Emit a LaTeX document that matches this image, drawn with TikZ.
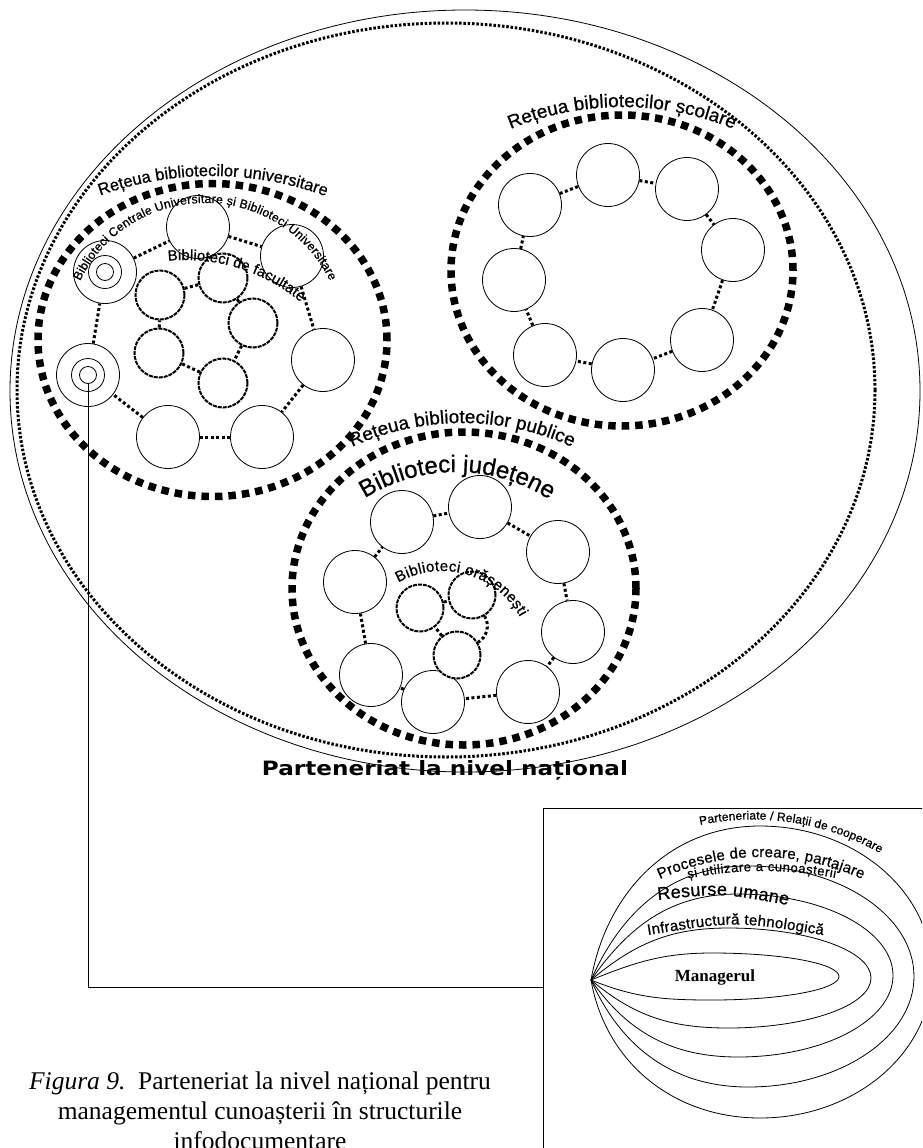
\documentclass[tikz,border=0pt]{standalone}
\usepackage{fontspec}
\usepackage{graphicx}
\setmainfont{Liberation Serif}
\setsansfont{Liberation Sans}
\newfontfamily\djf{DejaVu Sans}
\newfontfamily\lblf{Liberation Sans}[FakeBold=0.8]
\usetikzlibrary{decorations.text}
\newcommand\myarc[7]{%
  \path[decorate,decoration={text along path,
    text={|\lblf\fontsize{#1}{#1}\selectfont|#7},
    text align={fit to path}}]
    ([shift={(#5:#4)}]#2,#3) arc[start angle=#5,end angle=#6,radius=#4];}
\begin{document}
\begin{tikzpicture}[x=1pt,y=1pt,
  thinl/.style={line width=0.8pt},
  lib/.style={circle,draw,line width=0.8pt,fill=white,minimum size=63pt,inner sep=0pt},
  ringin/.style={circle,draw,line width=0.8pt,inner sep=0pt},
  fac/.style={circle,draw,fill=white,line width=2pt,dash pattern=on 4pt off 1pt,minimum size=49pt,inner sep=0pt},
  oras/.style={fac,minimum size=47pt},
  ringc/.style={line width=3pt,dash pattern=on 3pt off 2.5pt},
  bigring/.style={line width=7.5pt,dash pattern=on 7.5pt off 6pt},
  outerdots/.style={line width=3pt,dash pattern=on 2.5pt off 1.8pt}]
\useasboundingbox (0,0) rectangle (922,-1148);
\clip (0,0) rectangle (922,-1148);

% outer national partnership
\draw[thinl] (465,-391) ellipse[x radius=455,y radius=381];
\draw[outerdots] (446,-390) ellipse[x radius=429,y radius=367];

% three networks
\draw[bigring] (212.5,-340) ellipse[x radius=174.5,y radius=156.5];
\draw[bigring] (622,-270.5) ellipse[x radius=171,y radius=155.5];
\draw[bigring] (464,-588.5) ellipse[x radius=172,y radius=156.5];

% universitare
\node[lib] (U1) at (105,-272) {};
\node[ringin,minimum size=33pt] (U1b) at (U1) {};
\node[ringin,minimum size=17pt] (U1c) at (U1) {};
\node[lib] (U2) at (198,-227) {};
\node[lib] (U3) at (292,-256) {};
\node[lib] (U4) at (323,-360) {};
\node[lib] (U5) at (262,-437) {};
\node[lib] (U6) at (168,-437) {};
\node[lib] (U7) at (88,-375) {};
\node[ringin,minimum size=33pt] (U7b) at (U7) {};
\node[ringin,minimum size=17pt] (U7c) at (U7) {};
\foreach \a/\b in {U1/U2,U2/U3,U3/U4,U4/U5,U5/U6,U6/U7,U7/U1}
  \draw[ringc] (\a) -- (\b);

\node[fac] (F1) at (160,-295) {};
\node[fac] (F2) at (223,-278) {};
\node[fac] (F3) at (253,-323) {};
\node[fac] (F4) at (223,-383) {};
\node[fac] (F5) at (159,-353) {};
\foreach \a/\b in {F1/F2,F2/F3,F3/F4,F4/F5,F5/F1}
  \draw[ringc] (\a) -- (\b);

% scolare
\node[lib] (S1) at (608,-175) {};
\node[lib] (S2) at (687,-189) {};
\node[lib] (S3) at (733,-250) {};
\node[lib] (S4) at (702,-340) {};
\node[lib] (S5) at (623,-370) {};
\node[lib] (S6) at (545,-355) {};
\node[lib] (S7) at (514,-280) {};
\node[lib] (S8) at (530,-205) {};
\foreach \a/\b in {S1/S2,S2/S3,S3/S4,S4/S5,S5/S6,S6/S7,S7/S8,S8/S1}
  \draw[ringc] (\a) -- (\b);

% publice
\node[lib] (P1) at (402,-522) {};
\node[lib] (P2) at (480,-507) {};
\node[lib] (P3) at (558,-552) {};
\node[lib] (P4) at (355,-582) {};
\node[lib] (P5) at (573,-632) {};
\node[lib] (P6) at (528,-692) {};
\node[lib] (P7) at (433,-702) {};
\node[lib] (P8) at (371,-675) {};
\foreach \a/\b in {P1/P2,P2/P3,P3/P5,P5/P6,P6/P7,P7/P8,P8/P4,P4/P1}
  \draw[ringc] (\a) -- (\b);

\node[oras] (O1) at (420,-608) {};
\node[oras] (O2) at (472,-595) {};
\node[oras] (O3) at (457,-655) {};
\draw[ringc] (O1) -- (O2);
\draw[ringc] (O2) to[bend left=45] (O3);
\draw[ringc] (O3) -- (O1);

% labels on arcs
\myarc{16.5}{212}{-506}{330}{109.8}{70.2}{Rețeua bibliotecilor universitare}
\myarc{12.3}{205}{-342}{139}{154}{26}{Biblioteci Centrale Universitare și Biblioteci Universitare}
\myarc{14.8}{185}{-440}{180}{95.4}{50}{Biblioteci de facultate}
\myarc{18.8}{622}{-400.5}{293.5}{112.3}{67.7}{Rețeua bibliotecilor școlare}
\myarc{18.8}{462}{-687}{264}{114.6}{65.4}{Rețeua bibliotecilor publice}
\myarc{24}{456}{-644}{172}{122}{58}{Biblioteci județene}
\myarc{15}{442}{-660}{89}{119.4}{28.9}{Biblioteci orășenești}

\node[anchor=base] (pln) at (445,-775) {\resizebox{366pt}{15pt}{\djf\bfseries Parteneriat la nivel național}};

% box with the layered model
\coordinate (boxL) at (543,-987);
\draw[thinl] (543,-1160) -- (543,-808) -- (940,-808);
\draw[thinl] (U7c.south) |- (boxL);

\coordinate (L) at (591,-980);
\draw[thinl] (L) to[out=22,in=180] (712,-953) arc[start angle=90,end angle=-90,x radius=127,y radius=23.5] to[out=180,in=-22] (L);
\draw[thinl] (L) to[out=40,in=180] (728,-928) arc[start angle=90,end angle=-90,x radius=143,y radius=50] to[out=180,in=-40] (L);
\draw[thinl] (L) to[out=55,in=180] (738,-894) arc[start angle=90,end angle=-90,x radius=155,y radius=81.5] to[out=180,in=-55] (L);
\draw[thinl] (L) to[out=66,in=180] (748,-866) arc[start angle=90,end angle=-90,x radius=166,y radius=110.5] to[out=180,in=-66] (L);
\draw[thinl] (L) to[out=80,in=180] (760,-826) arc[start angle=90,end angle=-90,x radius=172,y radius=146] to[out=180,in=-80] (L);

\myarc{12}{753}{-1076}{256.5}{101.9}{60.3}{Parteneriate / Relații de cooperare}
\myarc{15}{761}{-1100}{243}{114.6}{65.4}{Procesele de creare, partajare}
\myarc{13}{763}{-1250}{379}{101.4}{79}{și utilizare a cunoașterii}
\path[decorate,decoration={text along path,
    text={|\lblf\fontsize{18}{18}\selectfont|Resurse umane},
    text align={fit to path}}] (658,-900) .. controls (722,-893) .. (788,-905);
\path[decorate,decoration={text along path,
    text={|\lblf\fontsize{15}{15}\selectfont|Infrastructură tehnologică},
    text align={fit to path}}] (648,-935) .. controls (735,-921) .. (823,-935);
\node[font=\fontsize{17}{17}\selectfont\bfseries] (man) at (715,-977) {Managerul};

% caption
\node[anchor=base,font=\fontsize{25.5}{30}\selectfont] (cap1) at (260,-1089) {\textit{Figura 9.}\ \ Parteneriat la nivel național pentru};
\node[anchor=base,font=\fontsize{25.5}{30}\selectfont] (cap2) at (260,-1119) {managementul cunoașterii în structurile};
\node[anchor=base,font=\fontsize{25.5}{30}\selectfont] (cap3) at (260,-1149) {infodocumentare};
\end{tikzpicture}
\end{document}
